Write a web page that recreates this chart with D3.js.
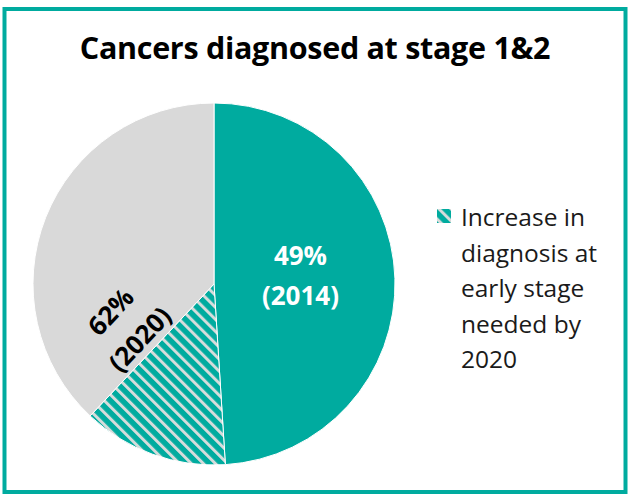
<!DOCTYPE html>
<html>
<head>
<meta charset="utf-8">
<script src="https://cdn.jsdelivr.net/npm/d3@7"></script>
<style>
  html, body { margin: 0; padding: 0; background: #fff; }
  svg { display: block; }
</style>
</head>
<body>
<svg id="chart" width="635" height="498"></svg>
<script>
// ---- data ----
const title = "Cancers diagnosed at stage 1&2";
const categories = ["2014", "Increase needed by 2020", "Remaining"];
const values = [49, 13, 38];
const sliceLabels = [["49%", "(2014)"], null, null];
const targetLabel = ["62%", "(2020)"];
const legendLines = ["Increase in", "diagnosis at", "early stage", "needed by", "2020"];

const teal = "#00ab9f";
const grey = "#d9d9d9";
const stripe = "#d6dcdb";

const svg = d3.select("#chart");

// border frame
svg.append("rect")
  .attr("x", 4.5).attr("y", 9).attr("width", 621).attr("height", 483)
  .attr("fill", "#fff").attr("stroke", teal).attr("stroke-width", 4);

// hatch pattern
const defs = svg.append("defs");
const P = 8.5;
const pat = defs.append("pattern")
  .attr("id", "hatch").attr("patternUnits", "userSpaceOnUse")
  .attr("width", P).attr("height", P)
  .attr("patternTransform", "rotate(-45)");
pat.append("rect").attr("width", P).attr("height", P).attr("fill", teal);
pat.append("rect").attr("x", 0).attr("width", 3).attr("height", P).attr("fill", stripe);

// title
svg.append("text")
  .attr("x", 315).attr("y", 59)
  .attr("text-anchor", "middle")
  .attr("font-family", "'Open Sans', sans-serif")
  .attr("font-weight", "bold")
  .attr("font-size", 30.5)
  .attr("letter-spacing", -0.3)
  .attr("fill", "#000")
  .text(title);

// pie
const cx = 214, cy = 284, r = 181;
const pie = d3.pie().sort(null).value(d => d)(values);
const arc = d3.arc().innerRadius(0).outerRadius(r);
const fills = [teal, "url(#hatch)", grey];

const g = svg.append("g").attr("transform", `translate(${cx},${cy})`);
g.selectAll("path.slice").data(pie).join("path")
  .attr("class", "slice")
  .attr("d", arc)
  .attr("fill", (d, i) => fills[i])
  .attr("stroke", "#fff").attr("stroke-width", 1);

// 49% label
const lblArc = d3.arc().innerRadius(r * 0.5).outerRadius(r * 0.5);
pie.forEach((d, i) => {
  if (!sliceLabels[i]) return;
  const [x, y] = lblArc.centroid(d);
  const t = g.append("text")
    .attr("text-anchor", "middle")
    .attr("font-family", "'Open Sans', sans-serif")
    .attr("font-weight", "bold")
    .attr("font-size", 26)
    .attr("fill", "#fff");
  sliceLabels[i].forEach((s, k) => {
    t.append("tspan").attr("x", x - 4).attr("y", y - 16 + k * 40).text(s);
  });
});

// 62% label: parallel to boundary between increase and remaining slices
const bAngle = pie[1].endAngle;
const ux = Math.sin(bAngle), uy = -Math.cos(bAngle);
const rot = Math.atan2(-uy, -ux) * 180 / Math.PI;
const along = 91, off = 36;
const lx = ux * along - uy * off, ly = uy * along + ux * off;
const tg = g.append("g").attr("transform", `translate(${lx},${ly}) rotate(${rot})`);
const t2 = tg.append("text")
  .attr("text-anchor", "middle")
  .attr("font-family", "'Open Sans', sans-serif")
  .attr("font-weight", "bold")
  .attr("font-size", 26)
  .attr("fill", "#000");
targetLabel.forEach((s, k) => {
  t2.append("tspan").attr("x", 0).attr("y", -11 + k * 40).text(s);
});

// legend
const lg = svg.append("g").attr("transform", "translate(437,209)");
lg.append("rect").attr("width", 14).attr("height", 14).attr("fill", "url(#hatch)");
const lt = lg.append("text")
  .attr("font-family", "'Open Sans', sans-serif")
  .attr("font-size", 24.5)
  .attr("fill", "#1a1a1a");
legendLines.forEach((s, k) => {
  lt.append("tspan").attr("x", 24).attr("y", 17 + k * 35.5).text(s);
});
</script>
</body>
</html>
